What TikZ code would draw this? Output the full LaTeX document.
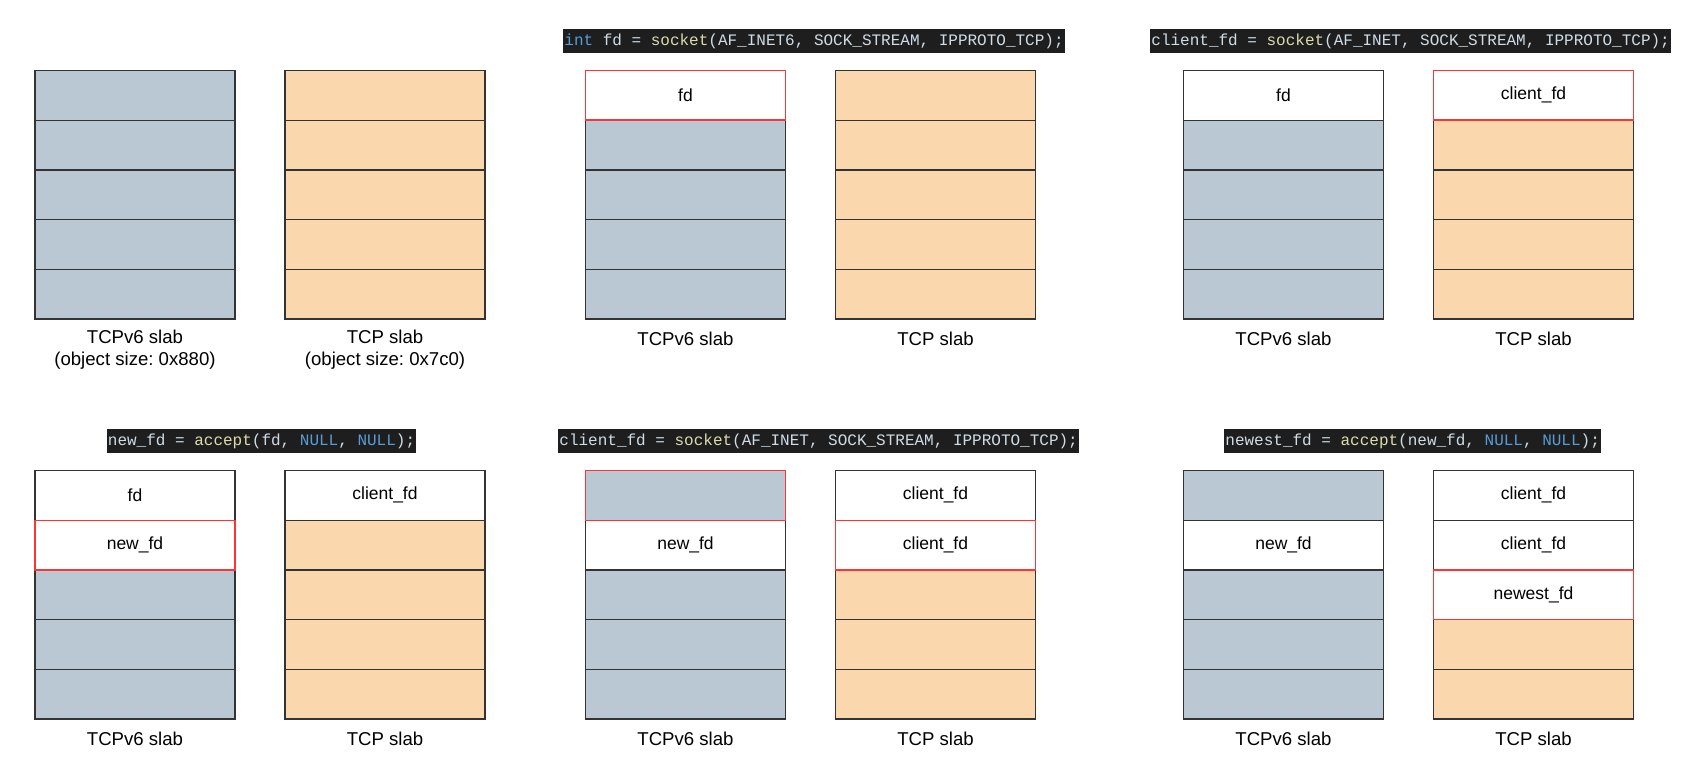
\documentclass[tikz,border=0pt]{standalone}
\usepackage{fontspec}
\setmainfont{Liberation Sans}
\newfontfamily\codefont{Liberation Mono}
\usetikzlibrary{calc}
\frenchspacing
\definecolor{slabblue}{HTML}{BAC8D3}
\definecolor{slaborange}{HTML}{FAD7AC}
\definecolor{cellline}{HTML}{333333}
\definecolor{hired}{HTML}{FF3333}
\definecolor{codebg}{HTML}{1E1E1E}
\definecolor{codefg}{HTML}{CFDCE6}
\definecolor{codefn}{HTML}{DCDCAA}
\definecolor{codekw}{HTML}{569CD6}
\tikzset{
  cell/.style={draw=cellline, line width=0.65pt, minimum width=100pt, minimum height=24.85pt,
    inner sep=0pt, outer sep=0pt, anchor=north west, font=\fontsize{8.75}{10}\selectfont},
  bcell/.style={fill=slabblue},
  ocell/.style={fill=slaborange},
  wcell/.style={fill=white},
  redframe/.style={draw=hired, line width=0.7pt},
  code/.style={fill=codebg, text=codefg, font=\codefont\fontsize{8}{9}\selectfont,
    inner xsep=0.5pt, inner ysep=0pt, minimum height=12pt, anchor=west},
  caption/.style={font=\fontsize{9.3}{10.75}\selectfont, align=center, inner sep=0pt},
}
\newcommand\slabcol[4]{\foreach \st/\tx [count=\i] in {#4} {\node[cell,\st] (#1-\i) at (#2,{#3+(\i-1)*49.7}) {\tx};}}
\newcommand\fn[1]{{\color{codefn}#1}}
\newcommand\kw[1]{{\color{codekw}#1}}
\begin{document}
\begin{tikzpicture}[x=0.5pt,y=-0.5pt]
\useasboundingbox (0,0) rectangle (1685,765);
% top row
\slabcol{a1}{35}{70.5}{bcell/,bcell/,bcell/,bcell/,bcell/}
\slabcol{a2}{285}{70.5}{ocell/,ocell/,ocell/,ocell/,ocell/}
\slabcol{b1}{585.5}{70.5}{wcell/fd,bcell/,bcell/,bcell/,bcell/}
\slabcol{b2}{835.5}{70.5}{ocell/,ocell/,ocell/,ocell/,ocell/}
\slabcol{c1}{1183.5}{70.5}{wcell/fd,bcell/,bcell/,bcell/,bcell/}
\slabcol{c2}{1433.5}{70.5}{wcell/client\_fd,ocell/,ocell/,ocell/,ocell/}
% bottom row
\slabcol{d1}{35}{470.5}{wcell/fd,wcell/new\_fd,bcell/,bcell/,bcell/}
\slabcol{d2}{285}{470.5}{wcell/client\_fd,ocell/,ocell/,ocell/,ocell/}
\slabcol{e1}{585.5}{470.5}{bcell/,wcell/new\_fd,bcell/,bcell/,bcell/}
\slabcol{e2}{835.5}{470.5}{wcell/client\_fd,wcell/client\_fd,ocell/,ocell/,ocell/}
\slabcol{f1}{1183.5}{470.5}{bcell/,wcell/new\_fd,bcell/,bcell/,bcell/}
\slabcol{f2}{1433.5}{470.5}{wcell/client\_fd,wcell/client\_fd,wcell/newest\_fd,ocell/,ocell/}
% highlighted cells
\foreach \c in {b1-1,c2-1,d1-2,e1-1,e2-2,f2-3}
  \draw[redframe] (\c.north west) rectangle (\c.south east);
% captions
\node[caption] (ca1) at ($(a1-5.south)+(0,30.5)$) {TCPv6 slab\\(object size: 0x880)};
\node[caption] (ca2) at ($(a2-5.south)+(0,30.5)$) {TCP slab\\(object size: 0x7c0)};
\foreach \s/\t in {b1/TCPv6 slab,b2/TCP slab,c1/TCPv6 slab,c2/TCP slab,d1/TCPv6 slab,d2/TCP slab,e1/TCPv6 slab,e2/TCP slab,f1/TCPv6 slab,f2/TCP slab}
  \node[caption] (cap-\s) at ($(\s-5.south)+(0,20)$) {\t};
% code labels
\node[code] (code1) at (563,41.5) {\kw{int} fd = \fn{socket}(AF\_INET6, SOCK\_STREAM, IPPROTO\_TCP);};
\node[code] (code2) at (1150,41.5) {client\_fd = \fn{socket}(AF\_INET, SOCK\_STREAM, IPPROTO\_TCP);};
\node[code] (code3) at (106.5,441.3) {new\_fd = \fn{accept}(fd, \kw{NULL}, \kw{NULL});};
\node[code] (code4) at (558,441.3) {client\_fd = \fn{socket}(AF\_INET, SOCK\_STREAM, IPPROTO\_TCP);};
\node[code] (code5) at (1224,441.3) {newest\_fd = \fn{accept}(new\_fd, \kw{NULL}, \kw{NULL});};
\end{tikzpicture}
\end{document}
